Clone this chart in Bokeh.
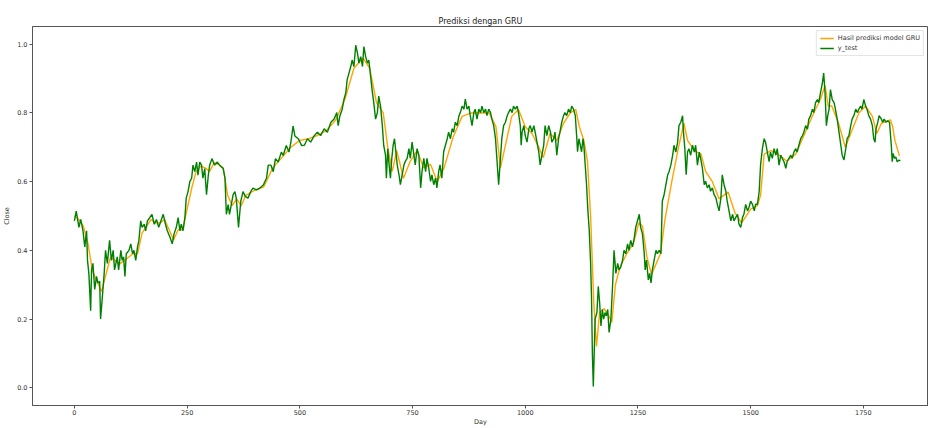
from bokeh.plotting import figure
from bokeh.models import Range1d, FixedTicker, Legend, LegendItem, NumeralTickFormatter
from bokeh.embed import file_html
from bokeh.resources import INLINE

title_text = "Prediksi dengan GRU"
x_label = "Day"
y_label = "Close"
pred_label = "Hasil prediksi model GRU"
test_label = "y_test"
x_ticks = [0, 250, 500, 750, 1000, 1250, 1500, 1750]
y_ticks = [0.0, 0.2, 0.4, 0.6, 0.8, 1.0]

test_day = [0, 4, 10, 14, 19, 23, 27, 29, 32, 36, 38, 41, 45, 49, 52, 56, 58, 61, 66, 69, 73, 78, 82, 86, 89, 95, 98,
            103, 106, 109, 112, 115, 121, 125, 129, 132, 136, 140, 143, 147, 150, 155, 158, 162, 167, 172, 177, 182,
            187, 192, 197, 202, 206, 212, 217, 221, 226, 230, 234, 237, 241, 245, 248, 252, 256, 260, 263, 267, 271,
            274, 278, 282, 285, 289, 293, 297, 300, 305, 311, 317, 322, 330, 334, 337, 341, 344, 348, 352, 356, 359,
            364, 369, 374, 379, 385, 391, 396, 404, 411, 419, 426, 430, 436, 441, 446, 452, 459, 463, 470, 476, 480,
            485, 489, 497, 504, 510, 517, 524, 532, 539, 546, 554, 561, 569, 576, 582, 585, 589, 594, 598, 602, 605,
            609, 613, 616, 620, 624, 628, 631, 635, 639, 642, 646, 650, 653, 657, 661, 664, 668, 672, 675, 679, 683,
            686, 690, 692, 695, 698, 701, 704, 707, 710, 713, 716, 720, 723, 727, 731, 734, 738, 742, 745, 749, 753,
            756, 760, 764, 768, 771, 775, 779, 782, 786, 790, 793, 797, 801, 804, 808, 811, 815, 819, 823, 827, 830,
            834, 838, 841, 845, 849, 853, 856, 860, 864, 867, 871, 875, 878, 882, 886, 889, 893, 897, 901, 904, 908,
            912, 915, 919, 923, 926, 930, 934, 937, 941, 945, 948, 952, 956, 960, 963, 967, 971, 974, 978, 982, 985,
            989, 991, 993, 997, 1000, 1004, 1008, 1011, 1015, 1019, 1022, 1026, 1030, 1033, 1037, 1041, 1044, 1048,
            1052, 1056, 1059, 1063, 1066, 1070, 1074, 1077, 1081, 1085, 1088, 1092, 1096, 1100, 1103, 1107, 1111,
            1114, 1116, 1119, 1122, 1125, 1128, 1130, 1133, 1136, 1139, 1142, 1145, 1147, 1149, 1151, 1155, 1159,
            1162, 1165, 1168, 1171, 1174, 1177, 1180, 1183, 1186, 1190, 1194, 1197, 1201, 1205, 1208, 1212, 1216,
            1219, 1223, 1227, 1230, 1234, 1238, 1242, 1245, 1249, 1253, 1256, 1260, 1264, 1266, 1269, 1273, 1276,
            1279, 1282, 1286, 1290, 1293, 1297, 1301, 1304, 1308, 1312, 1316, 1319, 1323, 1327, 1330, 1334, 1338,
            1341, 1345, 1349, 1351, 1354, 1357, 1360, 1363, 1367, 1371, 1375, 1378, 1382, 1386, 1389, 1393, 1397,
            1400, 1404, 1408, 1411, 1415, 1419, 1423, 1426, 1430, 1434, 1437, 1441, 1445, 1448, 1452, 1456, 1460,
            1463, 1467, 1471, 1474, 1478, 1482, 1485, 1489, 1493, 1496, 1500, 1504, 1508, 1511, 1515, 1519, 1522,
            1526, 1530, 1533, 1537, 1541, 1544, 1548, 1552, 1556, 1559, 1563, 1567, 1570, 1574, 1578, 1581, 1585,
            1589, 1592, 1596, 1600, 1603, 1607, 1611, 1615, 1618, 1622, 1626, 1629, 1633, 1637, 1640, 1644, 1648,
            1651, 1655, 1659, 1662, 1665, 1668, 1671, 1674, 1677, 1681, 1685, 1688, 1692, 1696, 1700, 1703, 1707,
            1711, 1714, 1718, 1722, 1725, 1729, 1733, 1737, 1740, 1744, 1747, 1751, 1755, 1758, 1762, 1766, 1770,
            1773, 1776, 1778, 1782, 1785, 1790, 1793, 1796, 1800, 1804, 1808, 1812, 1814, 1816, 1819, 1822, 1825,
            1829, 1832]
test_close = [0.486, 0.514, 0.467, 0.49, 0.457, 0.41, 0.457, 0.371, 0.333, 0.224, 0.343, 0.362, 0.286, 0.324, 0.305,
              0.31, 0.2, 0.248, 0.333, 0.4, 0.362, 0.429, 0.371, 0.40, 0.343, 0.381, 0.343, 0.40, 0.371, 0.381, 0.324,
              0.39, 0.40, 0.419, 0.39, 0.40, 0.371, 0.41, 0.429, 0.486, 0.467, 0.476, 0.457, 0.486, 0.495, 0.505,
              0.476, 0.49, 0.467, 0.486, 0.505, 0.476, 0.457, 0.438, 0.419, 0.448, 0.467, 0.495, 0.457, 0.476, 0.457,
              0.495, 0.552, 0.571, 0.60, 0.61, 0.648, 0.629, 0.657, 0.619, 0.657, 0.648, 0.61, 0.638, 0.562, 0.619,
              0.648, 0.667, 0.648, 0.657, 0.648, 0.638, 0.61, 0.505, 0.533, 0.505, 0.533, 0.562, 0.571, 0.552, 0.467,
              0.543, 0.571, 0.557, 0.552, 0.571, 0.581, 0.576, 0.581, 0.59, 0.61, 0.648, 0.648, 0.629, 0.667, 0.657,
              0.686, 0.676, 0.705, 0.686, 0.714, 0.762, 0.733, 0.724, 0.705, 0.706, 0.725, 0.715, 0.734, 0.744, 0.734,
              0.754, 0.744, 0.773, 0.782, 0.801, 0.763, 0.792, 0.811, 0.84, 0.859, 0.897, 0.916, 0.935, 0.954, 0.935,
              0.997, 0.973, 0.945, 0.964, 0.935, 0.993, 0.964, 0.945, 0.954, 0.906, 0.859, 0.83, 0.782, 0.801, 0.849,
              0.82, 0.763, 0.706, 0.677, 0.61, 0.696, 0.649, 0.61, 0.668, 0.706, 0.725, 0.687, 0.649, 0.62, 0.591,
              0.62, 0.649, 0.659, 0.668, 0.696, 0.668, 0.715, 0.677, 0.649, 0.696, 0.677, 0.582, 0.629, 0.668, 0.629,
              0.668, 0.639, 0.601, 0.62, 0.591, 0.61, 0.582, 0.629, 0.649, 0.61, 0.687, 0.706, 0.725, 0.744, 0.725,
              0.754, 0.744, 0.773, 0.763, 0.792, 0.801, 0.82, 0.811, 0.84, 0.811, 0.82, 0.792, 0.763, 0.801, 0.811,
              0.782, 0.811, 0.801, 0.82, 0.801, 0.811, 0.792, 0.811, 0.801, 0.782, 0.763, 0.725, 0.668, 0.591, 0.668,
              0.725, 0.763, 0.773, 0.792, 0.801, 0.811, 0.801, 0.82, 0.811, 0.82, 0.801, 0.763, 0.706, 0.744, 0.763,
              0.734, 0.715, 0.754, 0.763, 0.744, 0.763, 0.744, 0.715, 0.687, 0.649, 0.677, 0.706, 0.763, 0.734, 0.763,
              0.744, 0.715, 0.725, 0.744, 0.677, 0.725, 0.744, 0.773, 0.792, 0.801, 0.792, 0.811, 0.801, 0.82, 0.811,
              0.792, 0.734, 0.687, 0.725, 0.706, 0.687, 0.725, 0.706, 0.649, 0.591, 0.515, 0.458, 0.362, 0.266, 0.095,
              0.004, 0.2, 0.219, 0.295, 0.248, 0.18, 0.228, 0.2, 0.219, 0.209, 0.228, 0.161, 0.2, 0.305, 0.40, 0.333,
              0.362, 0.343, 0.352, 0.372, 0.40, 0.39, 0.419, 0.40, 0.429, 0.41, 0.438, 0.467, 0.486, 0.505, 0.467,
              0.448, 0.39, 0.343, 0.372, 0.314, 0.333, 0.305, 0.343, 0.372, 0.40, 0.39, 0.40, 0.39, 0.543, 0.562,
              0.591, 0.62, 0.629, 0.648, 0.677, 0.706, 0.686, 0.715, 0.763, 0.773, 0.792, 0.744, 0.696, 0.62, 0.686,
              0.696, 0.677, 0.706, 0.686, 0.706, 0.648, 0.686, 0.668, 0.639, 0.591, 0.601, 0.582, 0.591, 0.572, 0.582,
              0.562, 0.553, 0.534, 0.515, 0.553, 0.62, 0.591, 0.572, 0.543, 0.515, 0.486, 0.505, 0.486, 0.496, 0.505,
              0.477, 0.467, 0.496, 0.505, 0.534, 0.515, 0.524, 0.543, 0.534, 0.515, 0.534, 0.534, 0.572, 0.648, 0.696,
              0.725, 0.715, 0.686, 0.658, 0.686, 0.668, 0.696, 0.677, 0.696, 0.648, 0.677, 0.668, 0.658, 0.639, 0.658,
              0.668, 0.677, 0.668, 0.686, 0.696, 0.686, 0.706, 0.725, 0.734, 0.744, 0.763, 0.753, 0.782, 0.792, 0.811,
              0.801, 0.83, 0.839, 0.83, 0.859, 0.887, 0.916, 0.859, 0.763, 0.792, 0.811, 0.868, 0.839, 0.83, 0.811,
              0.782, 0.744, 0.706, 0.677, 0.663, 0.696, 0.725, 0.734, 0.763, 0.782, 0.792, 0.811, 0.801, 0.811, 0.82,
              0.811, 0.839, 0.82, 0.811, 0.792, 0.782, 0.763, 0.725, 0.715, 0.753, 0.773, 0.792, 0.782, 0.773, 0.782,
              0.773, 0.777, 0.773, 0.706, 0.658, 0.682, 0.668, 0.672, 0.658, 0.663, 0.66]

pred_day = [0, 10, 20, 30, 40, 50, 60, 70, 80, 90, 100, 110, 120, 130, 140, 150, 160, 170, 180, 190, 200, 210, 220,
            230, 240, 250, 260, 270, 280, 290, 300, 310, 320, 330, 340, 350, 360, 370, 380, 400, 420, 440, 460, 480,
            500, 520, 540, 560, 580, 600, 620, 640, 655, 670, 685, 695, 705, 715, 730, 745, 760, 775, 790, 805, 820,
            840, 860, 880, 900, 920, 935, 945, 955, 970, 985, 1000, 1015, 1030, 1040, 1055, 1070, 1085, 1100, 1112,
            1120, 1130, 1138, 1145, 1152, 1158, 1165, 1175, 1185, 1192, 1200, 1210, 1225, 1240, 1252, 1260, 1270,
            1280, 1290, 1300, 1310, 1325, 1340, 1352, 1360, 1375, 1390, 1400, 1415, 1430, 1440, 1450, 1465, 1480,
            1500, 1515, 1522, 1530, 1545, 1560, 1580, 1600, 1620, 1640, 1655, 1665, 1672, 1680, 1695, 1710, 1725,
            1740, 1755, 1770, 1780, 1790, 1810, 1815, 1820, 1830]
pred_close = [0.50, 0.49, 0.47, 0.42, 0.34, 0.31, 0.28, 0.33, 0.38, 0.37, 0.36, 0.37, 0.38, 0.39, 0.39, 0.45, 0.47,
              0.49, 0.48, 0.48, 0.49, 0.46, 0.43, 0.46, 0.46, 0.52, 0.58, 0.63, 0.645, 0.64, 0.63, 0.655, 0.65, 0.64,
              0.56, 0.53, 0.55, 0.53, 0.56, 0.575, 0.585, 0.64, 0.67, 0.70, 0.72, 0.725, 0.735, 0.75, 0.78, 0.84,
              0.93, 0.96, 0.93, 0.83, 0.80, 0.70, 0.63, 0.69, 0.61, 0.66, 0.69, 0.64, 0.65, 0.60, 0.64, 0.73, 0.79,
              0.80, 0.80, 0.80, 0.76, 0.64, 0.70, 0.79, 0.81, 0.76, 0.74, 0.70, 0.67, 0.74, 0.72, 0.77, 0.80, 0.81,
              0.76, 0.72, 0.66, 0.50, 0.25, 0.12, 0.22, 0.23, 0.21, 0.19, 0.30, 0.35, 0.39, 0.42, 0.48, 0.47, 0.38,
              0.33, 0.36, 0.39, 0.49, 0.60, 0.70, 0.77, 0.72, 0.69, 0.68, 0.63, 0.60, 0.55, 0.56, 0.57, 0.51, 0.48,
              0.52, 0.53, 0.56, 0.68, 0.69, 0.68, 0.66, 0.68, 0.74, 0.80, 0.84, 0.88, 0.82, 0.82, 0.77, 0.70, 0.75,
              0.80, 0.82, 0.79, 0.74, 0.77, 0.78, 0.76, 0.72, 0.675]

FONT = "DejaVu Sans"
TXT = "#333333"

p = figure(width=928, height=428, output_backend="svg", toolbar_location=None,
           x_range=Range1d(-93, 1894.5), y_range=Range1d(-0.0516, 1.0516),
           min_border_left=31, min_border_right=0, min_border_top=26, min_border_bottom=18,
           background_fill_color="white", border_fill_color="white")

p.title.text = title_text
p.title.align = "center"
p.title.text_font = FONT
p.title.text_font_size = "8px"
p.title.text_font_style = "normal"
p.title.text_color = "#222222"
p.title.standoff = 2

p.xgrid.visible = False
p.ygrid.visible = False
p.outline_line_color = "#555555"
p.outline_line_width = 1

for ax in (p.xaxis[0], p.yaxis[0]):
    ax.major_label_text_font = FONT
    ax.major_label_text_font_size = "6.5px"
    ax.major_label_text_color = TXT
    ax.axis_label_text_font = FONT
    ax.axis_label_text_font_size = "6.5px"
    ax.axis_label_text_font_style = "normal"
    ax.axis_label_text_color = TXT
    ax.axis_line_color = "#555555"
    ax.major_tick_line_color = "#555555"
    ax.major_tick_out = 3
    ax.major_tick_in = 0
    ax.minor_tick_line_color = None
    ax.major_label_standoff = 1
    ax.axis_label_standoff = 0

p.xaxis[0].ticker = FixedTicker(ticks=x_ticks)
p.yaxis[0].ticker = FixedTicker(ticks=y_ticks)
p.yaxis[0].formatter = NumeralTickFormatter(format="0.0")
p.xaxis[0].axis_label = x_label
p.yaxis[0].axis_label = y_label
p.yaxis[0].major_label_standoff = 2
p.yaxis[0].axis_label_standoff = 3

r_pred = p.line(pred_day, pred_close, line_color="orange", line_width=1.4)
r_test = p.line(test_day, test_close, line_color="green", line_width=1.4)

legend = Legend(items=[LegendItem(label=pred_label, renderers=[r_pred]),
                       LegendItem(label=test_label, renderers=[r_test])],
                location="top_right")
legend.label_text_font = FONT
legend.label_text_font_size = "6.5px"
legend.label_text_color = TXT
legend.label_height = 8
legend.glyph_height = 8
legend.glyph_width = 14
legend.spacing = 2
legend.padding = 3
legend.margin = 4
legend.label_standoff = 4
legend.border_line_color = "#cccccc"
legend.background_fill_alpha = 0.8
p.add_layout(legend)

open("out.html", "w").write(file_html(p, INLINE))
